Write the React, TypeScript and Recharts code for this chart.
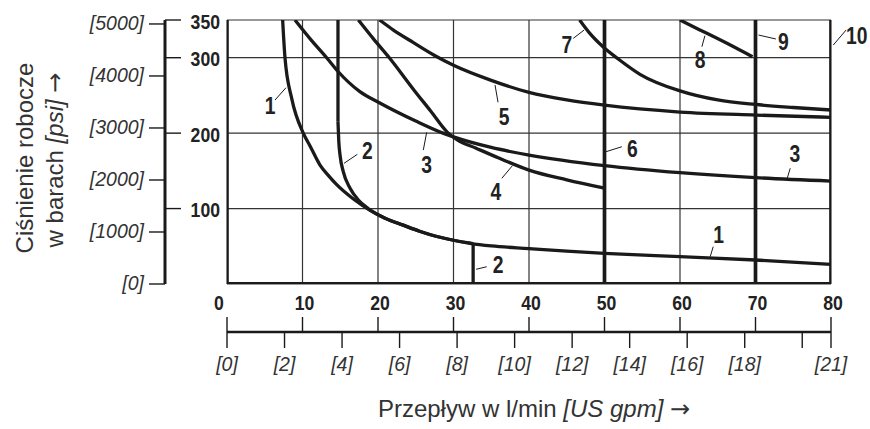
import React from 'react';
import {
  ComposedChart,
  Line,
  XAxis,
  YAxis,
  CartesianGrid,
  ReferenceLine,
  ReferenceDot,
} from 'recharts';

// ---------- axis data ----------
const flowTicks = [0, 10, 20, 30, 40, 50, 60, 70, 80];
const pressureTicks = [100, 200, 300, 350];
const psiTicks = [0, 1000, 2000, 3000, 4000, 5000];
const psiLabels = ['[0]', '[1000]', '[2000]', '[3000]', '[4000]', '[5000]'];
const gpmTicks = [0, 2, 4, 6, 8, 10, 12, 14, 16, 18, 20, 21];
const gpmLabels = ['[0]', '[2]', '[4]', '[6]', '[8]', '[10]', '[12]', '[14]', '[16]', '[18]', '', '[21]'];
const FLOW_MAX = 80;
const PRESSURE_MAX = 350;
const GPM_MAX = 21;
const PSI_PER_BAR = 14.5038;

// ---------- curves (x = l/min, y = bar) ----------
const curve1 = [
  { x: 7.37, y: 350 }, { x: 7.68, y: 300 }, { x: 8.57, y: 246 }, { x: 10.1, y: 200 },
  { x: 11, y: 183 }, { x: 12.3, y: 158 }, { x: 13.5, y: 143 }, { x: 14.5, y: 132 },
  { x: 16.7, y: 113 }, { x: 18.9, y: 98 }, { x: 21, y: 87 }, { x: 23.35, y: 78 },
  { x: 25.5, y: 70 }, { x: 27.8, y: 63 }, { x: 30, y: 58 }, { x: 32.2, y: 54 },
  { x: 35, y: 50.5 }, { x: 40, y: 47 }, { x: 45, y: 43.6 }, { x: 50, y: 40.7 },
  { x: 60, y: 36.2 }, { x: 70, y: 31.8 }, { x: 80, y: 26.1 },
];
const curve2Upper = [{ x: 14.7, y: 350 }, { x: 14.7, y: 215 }];
const curve2Bend = [
  { x: 14.7, y: 215 }, { x: 14.8, y: 190 }, { x: 14.97, y: 171 }, { x: 15.4, y: 149 },
  { x: 16.3, y: 127 }, { x: 17.4, y: 111.4 }, { x: 18.7, y: 100 }, { x: 21, y: 87 },
  { x: 23.35, y: 78 }, { x: 25.5, y: 70 }, { x: 27.8, y: 63 }, { x: 30, y: 58 }, { x: 32.6, y: 53.6 },
];
const curve2Drop = [{ x: 32.6, y: 53.6 }, { x: 32.6, y: 0 }];
const curve3 = [
  { x: 9.0, y: 350 }, { x: 11.1, y: 324 }, { x: 13.2, y: 300 }, { x: 14.65, y: 282.4 },
  { x: 17.6, y: 255 }, { x: 20.3, y: 239.6 }, { x: 25, y: 216 }, { x: 28.6, y: 200 },
  { x: 30, y: 195 }, { x: 35, y: 181 }, { x: 40, y: 171 }, { x: 50, y: 157 },
  { x: 60, y: 147.6 }, { x: 70, y: 141 }, { x: 80, y: 136.5 },
];
const curve4 = [
  { x: 17.4, y: 350 }, { x: 19.4, y: 325 }, { x: 21.5, y: 300 }, { x: 24.7, y: 258 },
  { x: 27, y: 229 }, { x: 29.2, y: 201 }, { x: 30.5, y: 191 }, { x: 33, y: 180 },
  { x: 36, y: 167 }, { x: 40, y: 151 }, { x: 45, y: 138 }, { x: 50, y: 127 },
];
const curve5 = [
  { x: 20.2, y: 350 }, { x: 22, y: 337 }, { x: 24.7, y: 320 }, { x: 27.5, y: 303 },
  { x: 30, y: 290 }, { x: 35, y: 270 }, { x: 40, y: 254 }, { x: 45, y: 244 },
  { x: 50, y: 237 }, { x: 60, y: 228 }, { x: 70, y: 224 }, { x: 80, y: 221 },
];
const curve6 = [{ x: 50, y: 0 }, { x: 50, y: 350 }];
const curve7 = [
  { x: 46.7, y: 350 }, { x: 48, y: 333 }, { x: 49.8, y: 314.6 }, { x: 52, y: 297 },
  { x: 54.7, y: 278 }, { x: 60, y: 256 }, { x: 65, y: 244 }, { x: 70, y: 238 },
  { x: 75, y: 234 }, { x: 80, y: 230.7 },
];
const curve8 = [
  { x: 60, y: 350 }, { x: 62.5, y: 337.5 }, { x: 64.9, y: 325.7 }, { x: 67.3, y: 313.5 }, { x: 69.6, y: 301.3 },
];
const curve9 = [{ x: 70, y: 0 }, { x: 70, y: 350 }];
const curve10 = [{ x: 80, y: 0 }, { x: 80, y: 350 }];
const frameLeft = [{ x: 0, y: 0 }, { x: 0, y: 350 }];
const frameBottom = [{ x: 0, y: 0 }, { x: 80, y: 0 }];
// invisible helper series so that the gpm scale gets its extent
const gpmSpan = gpmTicks.map((g) => ({ x: g, y: 0 }));

// ---------- curve labels and leader lines ----------
const curveLabels = [
  { text: '1', x: 5.7, y: 236.4 },
  { text: '2', x: 18.58, y: 177.6 },
  { text: '3', x: 26.45, y: 157.8 },
  { text: '4', x: 35.6, y: 122.4 },
  { text: '5', x: 36.7, y: 221.8 },
  { text: '2', x: 35.9, y: 25.2 },
  { text: '6', x: 53.7, y: 179.9 },
  { text: '3', x: 75.2, y: 173.3 },
  { text: '1', x: 65.1, y: 65 },
  { text: '7', x: 45, y: 317.8 },
  { text: '8', x: 62.65, y: 297 },
  { text: '9', x: 73.7, y: 321.2 },
  { text: '10', x: 83.4, y: 330.1 },
];
const leaders = [
  [{ x: 6.36, y: 243.9 }, { x: 7.81, y: 260.2 }],
  [{ x: 17.26, y: 171.9 }, { x: 15.5, y: 160 }],
  [{ x: 26, y: 177.6 }, { x: 26.45, y: 201.1 }],
  [{ x: 36.4, y: 140.1 }, { x: 37.8, y: 156.8 }],
  [{ x: 35.9, y: 240.9 }, { x: 35.5, y: 263.8 }],
  [{ x: 34.4, y: 22.9 }, { x: 33, y: 19.5 }],
  [{ x: 52.3, y: 182 }, { x: 50.2, y: 175.4 }],
  [{ x: 74.6, y: 153.4 }, { x: 74.2, y: 140.1 }],
  [{ x: 64.4, y: 49.5 }, { x: 64, y: 36.2 }],
  [{ x: 45.87, y: 325.7 }, { x: 47.3, y: 336.7 }],
  [{ x: 62.9, y: 314.6 }, { x: 63.3, y: 329.2 }],
  [{ x: 72.7, y: 324.8 }, { x: 70.4, y: 330.1 }],
  [{ x: 82, y: 336.7 }, { x: 80.3, y: 316.8 }],
];

// ---------- styles ----------
const INK = '#1a1a1a';
const GREY = '#333';
const SANS = "'Liberation Sans', Arial, Helvetica, sans-serif";
const ARROW = "'DejaVu Sans', sans-serif";

const NarrowBold = ({ x, y, anchor, size, children }: any) => (
  <text
    transform={`translate(${x},${y}) scale(0.84,1)`}
    x={0}
    y={0}
    textAnchor={anchor}
    fontFamily={SANS}
    fontWeight="bold"
    fontSize={size}
    fill="#222"
  >
    {children}
  </text>
);

const FlowTick = (props: any) => {
  const { x, y, payload } = props;
  const dx = payload.value === 0 ? -8 : 2;
  return (
    <g>
      <NarrowBold x={x + dx} y={y + 26} anchor="middle" size={21}>
        {payload.value}
      </NarrowBold>
      <line x1={x} x2={x} y1={y + 33} y2={y + 48} stroke={INK} strokeWidth={1.4} />
    </g>
  );
};

const GpmTick = (props: any) => {
  const { x, y, payload } = props;
  const label = gpmLabels[gpmTicks.indexOf(payload.value)];
  return (
    <g>
      <line x1={x} x2={x} y1={y} y2={y + 16} stroke={INK} strokeWidth={1.4} />
      <text x={x} y={y + 39} textAnchor="middle" fontFamily={SANS} fontStyle="italic" fontSize={19.5} fill={GREY}>
        {label}
      </text>
    </g>
  );
};

const BarTick = (props: any) => {
  const { x, y, payload } = props;
  return (
    <g>
      <line x1={x - 62} x2={x - 46} y1={y} y2={y} stroke={INK} strokeWidth={1.4} />
      <NarrowBold x={x - 7} y={y + 8.6} anchor="end" size={21}>
        {payload.value}
      </NarrowBold>
    </g>
  );
};

const PsiTick = (props: any) => {
  const { x, y, payload } = props;
  const label = psiLabels[psiTicks.indexOf(payload.value)];
  return (
    <g>
      <line x1={x - 16} x2={x} y1={y} y2={y} stroke={INK} strokeWidth={1.4} />
      <text x={x - 21} y={y + 6} textAnchor="end" fontFamily={SANS} fontStyle="italic" fontSize={19.5} fill={GREY}>
        {label}
      </text>
    </g>
  );
};

const YTitle = (props: any) => {
  const vb = props.viewBox || { x: 0, y: 20, width: 165, height: 264 };
  const cy = vb.y + vb.height / 2 + 6;
  const x1 = vb.x + 33;
  const x2 = vb.x + 63;
  return (
    <g fontFamily={SANS} fontSize={24} fill={GREY}>
      <text x={x1} y={cy} textAnchor="middle" transform={`rotate(-90 ${x1} ${cy})`}>
        Ciśnienie robocze
      </text>
      <text x={x2} y={cy + 2} textAnchor="middle" transform={`rotate(-90 ${x2} ${cy + 2})`}>
        w barach <tspan fontStyle="italic">[psi]</tspan> <tspan fontFamily={ARROW}>→</tspan>
      </text>
    </g>
  );
};

const XTitle = (props: any) => {
  const vb = props.viewBox || { x: 227, y: 332, width: 604, height: 97 };
  const cx = vb.x + vb.width / 2 + 5;
  const y = vb.y + 85;
  return (
    <text x={cx} y={y} textAnchor="middle" fontFamily={SANS} fontSize={24} fill={GREY}>
      Przepływ w l/min <tspan fontStyle="italic">[US gpm]</tspan> <tspan fontFamily={ARROW}>→</tspan>
    </text>
  );
};

const CurveLabel = (text: string) => (p: any) => (
  <NarrowBold x={p.cx} y={p.cy + 8.5} anchor="middle" size={23}>
    {text}
  </NarrowBold>
);

const curveStyle = { stroke: INK, strokeWidth: 3.3, dot: false, activeDot: false, isAnimationActive: false };

export default function App() {
  return (
    <div style={{ position: 'absolute', left: 0, top: 0, width: 870, height: 429, background: '#fff' }}>
      <ComposedChart width={870} height={429} margin={{ top: 20, right: 39, bottom: 0, left: 0 }}>
        <XAxis
          xAxisId="xa"
          dataKey="x"
          type="number"
          domain={[0, FLOW_MAX]}
          ticks={flowTicks}
          interval={0}
          allowDataOverflow
          axisLine={false}
          tickLine={false}
          tickSize={0}
          tickMargin={0}
          height={48}
          tick={FlowTick}
        />
        <XAxis
          xAxisId="xb"
          dataKey="x"
          type="number"
          domain={[0, GPM_MAX]}
          ticks={gpmTicks}
          interval={0}
          allowDataOverflow
          axisLine={{ stroke: INK, strokeWidth: 2.7 }}
          tickLine={false}
          tickSize={0}
          tickMargin={0}
          height={97}
          tick={GpmTick}
          label={XTitle}
        />
        <YAxis
          yAxisId="ya"
          type="number"
          domain={[0, PRESSURE_MAX]}
          ticks={pressureTicks}
          interval={0}
          allowDataOverflow
          axisLine={false}
          tickLine={false}
          tickSize={0}
          tickMargin={0}
          width={62}
          tick={BarTick}
        />
        <YAxis
          yAxisId="yb"
          type="number"
          domain={[0, PRESSURE_MAX * PSI_PER_BAR]}
          ticks={psiTicks}
          interval={0}
          allowDataOverflow
          axisLine={{ stroke: INK, strokeWidth: 3 }}
          tickLine={false}
          tickSize={0}
          tickMargin={0}
          width={165}
          tick={PsiTick}
          label={YTitle}
        />
        <CartesianGrid xAxisId="xa" yAxisId="ya" stroke={GREY} strokeWidth={1.2} />

        <Line xAxisId="xb" yAxisId="ya" data={gpmSpan} dataKey="y" type="linear" stroke="none" strokeWidth={0} dot={false} activeDot={false} isAnimationActive={false} />

        <Line xAxisId="xa" yAxisId="ya" data={curve1} dataKey="y" type="monotone" {...curveStyle} />
        <Line xAxisId="xa" yAxisId="ya" data={curve2Upper} dataKey="y" type="linear" {...curveStyle} />
        <Line xAxisId="xa" yAxisId="ya" data={curve2Bend} dataKey="y" type="monotone" {...curveStyle} />
        <Line xAxisId="xa" yAxisId="ya" data={curve2Drop} dataKey="y" type="linear" {...curveStyle} />
        <Line xAxisId="xa" yAxisId="ya" data={curve3} dataKey="y" type="monotone" {...curveStyle} />
        <Line xAxisId="xa" yAxisId="ya" data={curve4} dataKey="y" type="monotone" {...curveStyle} />
        <Line xAxisId="xa" yAxisId="ya" data={curve5} dataKey="y" type="monotone" {...curveStyle} />
        <Line xAxisId="xa" yAxisId="ya" data={curve7} dataKey="y" type="monotone" {...curveStyle} />
        <Line xAxisId="xa" yAxisId="ya" data={curve8} dataKey="y" type="monotone" {...curveStyle} />
        <Line xAxisId="xa" yAxisId="ya" data={curve6} dataKey="y" type="linear" {...curveStyle} strokeWidth={3.7} />
        <Line xAxisId="xa" yAxisId="ya" data={curve9} dataKey="y" type="linear" {...curveStyle} strokeWidth={3.7} />
        <Line xAxisId="xa" yAxisId="ya" data={curve10} dataKey="y" type="linear" {...curveStyle} strokeWidth={3.7} />
        <Line xAxisId="xa" yAxisId="ya" data={frameLeft} dataKey="y" type="linear" {...curveStyle} strokeWidth={3.6} />
        <Line xAxisId="xa" yAxisId="ya" data={frameBottom} dataKey="y" type="linear" {...curveStyle} strokeWidth={3.8} strokeLinecap="square" />

        {leaders.map((seg, i) => (
          <ReferenceLine key={`l${i}`} xAxisId="xa" yAxisId="ya" segment={seg} stroke={INK} strokeWidth={1} ifOverflow="visible" />
        ))}
        {curveLabels.map((l, i) => (
          <ReferenceDot
            key={`d${i}`}
            xAxisId="xa"
            yAxisId="ya"
            x={l.x}
            y={l.y}
            r={0}
            ifOverflow="visible"
            shape={CurveLabel(l.text)}
          />
        ))}
      </ComposedChart>
    </div>
  );
}
